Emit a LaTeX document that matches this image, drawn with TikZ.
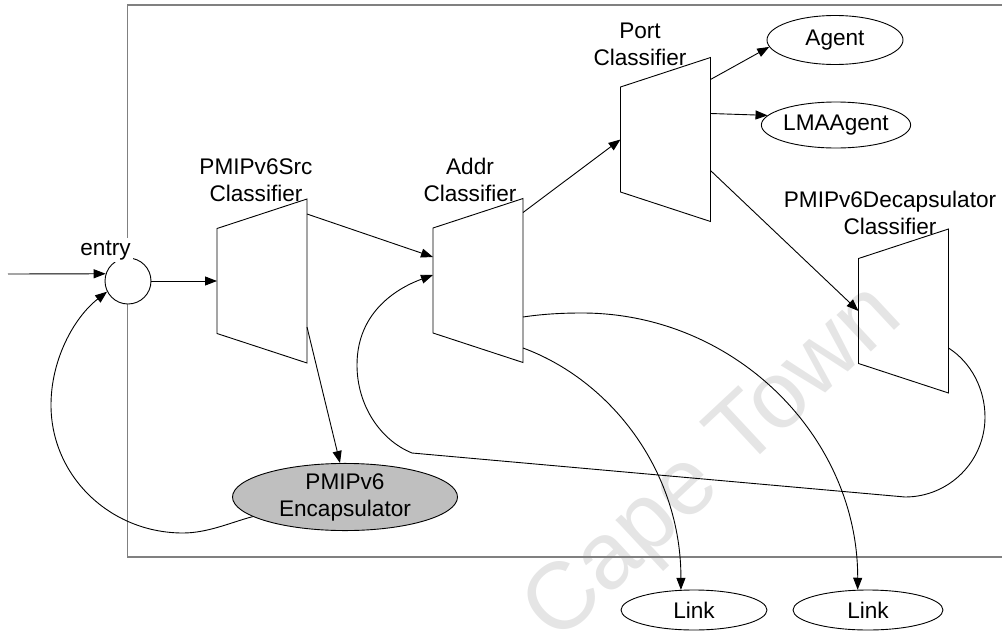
\documentclass[tikz,border=0pt]{standalone}
\usepackage{fontspec}
\setmainfont{Liberation Sans}
\usetikzlibrary{shapes.geometric,arrows.meta,calc}
\newcommand\dfont{\fontsize{22.6}{27}\selectfont}
\begin{document}
\begin{tikzpicture}[x=1pt,y=-1pt,
  line/.style={line width=0.9pt, draw=black},
  arr/.style={line, -{Triangle[length=12pt,width=9pt]}},
  cls/.style={minimum width=90pt, minimum height=164pt, inner sep=0pt, outer sep=0pt},
  ell/.style={ellipse, draw, line width=0.9pt, inner sep=0pt, font=\dfont},
  lbl/.style={align=center, inner sep=1pt, font=\dfont, anchor=base},
  frame/.style={draw=black!50, line width=1.5pt}
]
\useasboundingbox (0,0) rectangle (1002,632);
% watermark
\node[rotate=43, text=black!10, font=\fontsize{95}{95}\selectfont] (wm) at (715,465) {Cape Town};
% frame
\draw[frame] (127.5,5) rectangle (1020,557);

% classifiers
\node[cls] (src) at (262,281) {};
\node[cls] (addr) at (478,280.5) {};
\node[cls] (port) at (665.5,139.5) {};
\node[cls] (decap) at (903.5,311) {};
\foreach \n in {src,addr,port,decap}{
  \draw[line] (\n.north east) -- (\n.south east) -- ($(\n.south west)+(0,-29.5)$) -- ($(\n.north west)+(0,29.5)$) -- cycle;
}
\node[lbl] (srcl) at (256,201) {PMIPv6Src\\Classifier};
\node[lbl] (addrl) at (470,201) {Addr\\Classifier};
\node[lbl] (portl) at (640,65) {Port\\Classifier};
\node[lbl] (decapl) at (890,234) {PMIPv6Decapsulator\\Classifier};

% entry
\node[circle, draw, line width=0.9pt, fill=white, minimum size=46pt, inner sep=0pt] (entry) at (128,281) {};
\node[lbl, fill=white, inner sep=2pt] (entryl) at (105.5,255) {entry};
\coordinate (in) at (8,274);

% ellipses
\node[ell, minimum width=136pt, minimum height=49pt] (agent) at (835,40) {Agent};
\node[ell, minimum width=135pt, minimum height=46pt] (lma) at (836,125) {LMAAgent};
\node[ell, minimum width=146pt, minimum height=40pt] (link1) at (694,610) {Link};
\node[ell, minimum width=150pt, minimum height=40pt] (link2) at (868,610) {Link};
\node[ell, fill=black!25, minimum width=225pt, minimum height=59pt, align=center] (encap) at (345,497) {PMIPv6\\Encapsulator};

% connectors
\draw[arr] (in) -- (entry.162);
\draw[arr] (entry.east) -- (src.west);
\draw[arr] ($(src.north east)+(0,15)$) -- ($(addr.west)+(0,-23.5)$);
\draw[arr] ($(src.north east)+(0,128)$) -- ($(encap.north)+(-5,0)$);
\draw[arr] (encap.192) .. controls (232,522) and (208,533) .. (183,533)
  .. controls (110,533) and (51,476) .. (51,405)
  .. controls (51,360) and (73.5,318) .. (entry.207);
\draw[arr] ($(addr.north east)+(0,14)$) -- (port.west);
\draw[arr] ($(port.north east)+(0,22)$) -- (agent.186);
\draw[arr] ($(port.north east)+(0,56)$) -- (lma.172);
\draw[arr] ($(port.north east)+(0,113)$) -- (decap.west);
\draw[arr] ($(decap.north east)+(0,119)$) .. controls (971.4,362.6) and (985,389.4) .. (985,417)
  .. controls (985,461.2) and (949.2,497) .. (905,497) -- (412,453)
  .. controls (380,440) and (357,405) .. (357,365)
  .. controls (357,310) and (400,287) .. ($(addr.west)+(0,-5.5)$);
\draw[arr] ($(addr.north east)+(0,118.5)$) .. controls (543,314) and (562,313) .. (582,313)
  .. controls (735,313) and (858,437) .. (link2.117);
\draw[arr] ($(addr.north east)+(0,149.5)$) .. controls (610,380) and (681,470) .. (link1.123);
\end{tikzpicture}
\end{document}
